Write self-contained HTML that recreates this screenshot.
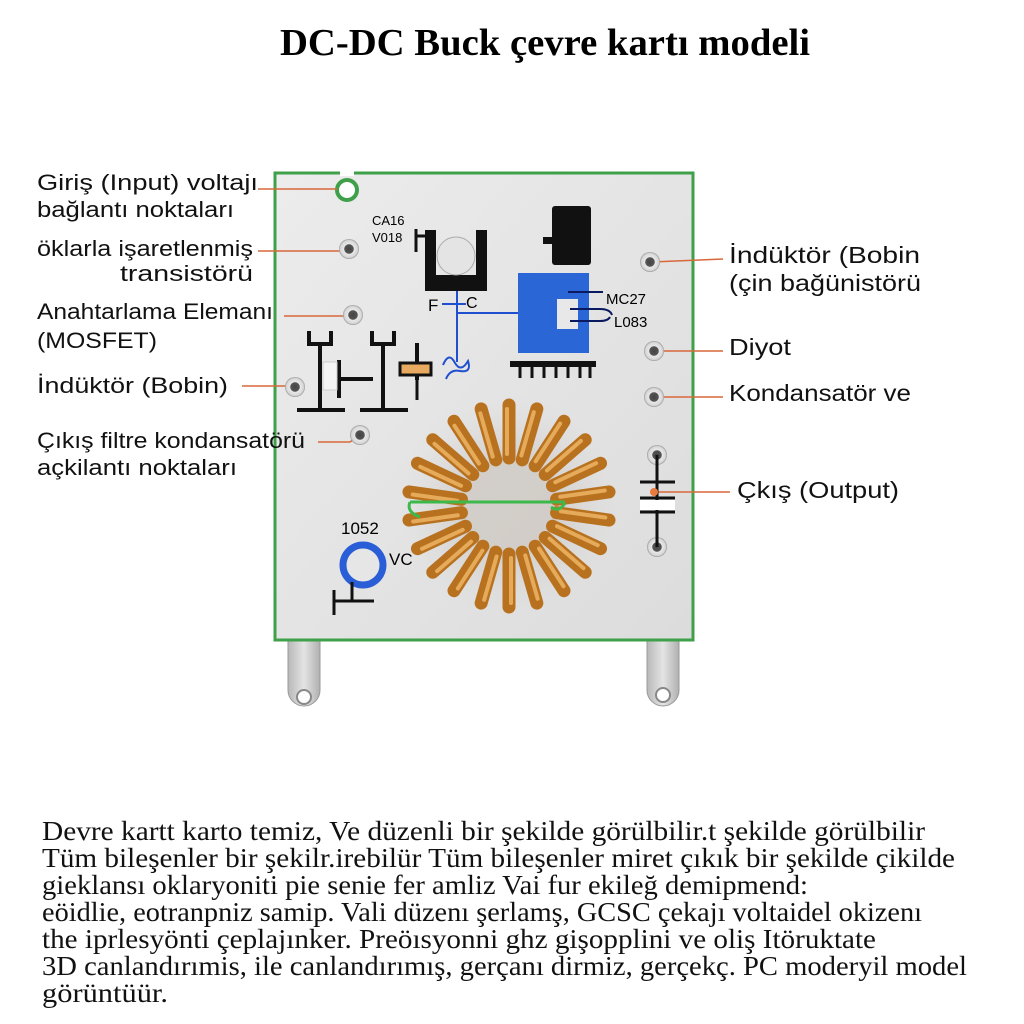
<!DOCTYPE html>
<html><head><meta charset="utf-8"><style>
html,body{margin:0;padding:0;background:#fff;width:1024px;height:1024px;overflow:hidden}
</style></head><body>
<svg width="1024" height="1024" viewBox="0 0 1024 1024" xmlns="http://www.w3.org/2000/svg">
<defs>
<linearGradient id="board" x1="0" y1="0" x2="1" y2="1"><stop offset="0" stop-color="#ececec"/><stop offset="1" stop-color="#dcdcdc"/></linearGradient>
<linearGradient id="tab" x1="0" y1="0" x2="1" y2="0"><stop offset="0" stop-color="#b8b8b8"/><stop offset=".5" stop-color="#e4e4e4"/><stop offset="1" stop-color="#b0b0b0"/></linearGradient>
<radialGradient id="shadow"><stop offset=".4" stop-color="#c8c0b8" stop-opacity=".6"/><stop offset="1" stop-color="#ddd" stop-opacity="0"/></radialGradient>
<radialGradient id="pad"><stop offset="0" stop-color="#444"/><stop offset=".45" stop-color="#555"/><stop offset=".5" stop-color="#e8e8e8"/><stop offset=".85" stop-color="#d8d8d8"/><stop offset="1" stop-color="#999"/></radialGradient>
</defs>
<text x="280" y="55" textLength="530" lengthAdjust="spacingAndGlyphs" font-family="Liberation Serif" font-weight="bold" font-size="38">DC-DC Buck çevre kartı modeli</text>
<!-- tabs -->
<path d="M288 636 H320 V690 A16 16 0 0 1 288 690 Z" fill="url(#tab)" stroke="#999"/>
<circle cx="304" cy="697" r="7" fill="#fff" stroke="#888" stroke-width="2"/>
<path d="M647 636 H679 V690 A16 16 0 0 1 647 690 Z" fill="url(#tab)" stroke="#999"/>
<circle cx="663" cy="695" r="7" fill="#fff" stroke="#888" stroke-width="2"/>
<!-- board -->
<rect x="275" y="173" width="418" height="467" fill="url(#board)" stroke="#3fa04a" stroke-width="3"/>
<rect x="340" y="170" width="14" height="6" fill="#fff"/>
<circle cx="347" cy="190" r="10" fill="#fff" stroke="#3fa04a" stroke-width="4"/>
<!-- leader lines -->
<g stroke="#d8683a" stroke-width="1.6" fill="none">
<line x1="258" y1="189" x2="337" y2="189"/>
<line x1="258" y1="251" x2="343" y2="251"/>
<line x1="284" y1="316" x2="348" y2="316"/>
<line x1="242" y1="386" x2="292" y2="386"/>
<path d="M318 442 H350 L358 436"/>
<line x1="652" y1="262" x2="723" y2="259"/>
<line x1="655" y1="351" x2="723" y2="351"/>
<line x1="655" y1="397" x2="723" y2="397"/>
<line x1="652" y1="492" x2="730" y2="492"/>
</g>
<!-- pads -->
<g>
<circle cx="349" cy="249" r="10" fill="url(#pad)"/>
<circle cx="353" cy="315" r="10" fill="url(#pad)"/>
<circle cx="295" cy="387" r="10" fill="url(#pad)"/>
<circle cx="360" cy="435" r="10" fill="url(#pad)"/>
<circle cx="650" cy="262" r="10" fill="url(#pad)"/>
<circle cx="654" cy="351" r="10" fill="url(#pad)"/>
<circle cx="654" cy="397" r="10" fill="url(#pad)"/>
<circle cx="657" cy="455" r="10" fill="url(#pad)"/>
<circle cx="657" cy="547" r="10" fill="url(#pad)"/>
</g>
<!-- heatsink transistor -->
<text x="372" y="225" font-family="Liberation Sans" font-size="13">CA16</text>
<text x="372" y="242" font-family="Liberation Sans" font-size="13">V018</text>
<path d="M416 229 V252 M416 236 H428" stroke="#111" stroke-width="3" fill="none"/>
<path d="M425 230 H436 V275 H476 V230 H487 V291 H425 Z" fill="#111"/>
<circle cx="456" cy="256" r="19" fill="#e4e4e4" stroke="#aaa"/>
<!-- blue traces -->
<g stroke="#2050d0" stroke-width="2" fill="none">
<line x1="457" y1="291" x2="457" y2="362"/>
<line x1="442" y1="304" x2="466" y2="304"/>
<line x1="457" y1="313" x2="520" y2="313"/>
<path d="M443 365 q6 -14 12 -2 q6 10 13 -2 q4 12 -8 10 q-10 -2 -14 8"/>
</g>
<text x="428" y="311" font-family="Liberation Sans" font-size="17">F</text>
<text x="466" y="308" font-family="Liberation Sans" font-size="16">C</text>
<!-- black chip -->
<rect x="552" y="206" width="39" height="59" rx="3" fill="#111"/>
<rect x="543" y="237" width="10" height="7" fill="#111"/>
<!-- blue IC -->
<rect x="518" y="273" width="71" height="80" fill="#2a66d6"/>
<rect x="557" y="299" width="21" height="30" fill="#e8e8e8"/>
<g stroke="#0a1a60" stroke-width="2" fill="none"><line x1="568" y1="292" x2="603" y2="292"/><path d="M570 309 H600 q10 0 12 6"/><path d="M570 321 H600 q8 0 10 -4"/></g>
<text x="606" y="304" font-family="Liberation Sans" font-size="15">MC27</text>
<text x="614" y="327" font-family="Liberation Sans" font-size="15">L083</text>
<rect x="510" y="361" width="86" height="6" fill="#111"/>
<g stroke="#111" stroke-width="3"><line x1="520" y1="366" x2="520" y2="378"/><line x1="532" y1="366" x2="532" y2="378"/><line x1="544" y1="366" x2="544" y2="378"/><line x1="556" y1="366" x2="556" y2="378"/><line x1="568" y1="366" x2="568" y2="378"/><line x1="580" y1="366" x2="580" y2="378"/><line x1="590" y1="366" x2="590" y2="378"/></g>
<!-- MOSFET symbols -->
<g stroke="#111" stroke-width="4" fill="none">
<path d="M309 331 V344 H331 V331 M320 344 V410 M297 410 H345"/>
<path d="M372 331 V344 H394 V331 M383 344 V410 M360 410 H408"/>
<path d="M339 360 V398 M339 379 H373"/>
<path d="M417 343 V380"/>
</g>
<rect x="323" y="362" width="14" height="28" fill="#f4f4f4" stroke="#ccc"/>
<rect x="400" y="363" width="31" height="12" fill="#e8aa60" stroke="#111" stroke-width="3"/>
<line x1="417" y1="375" x2="417" y2="400" stroke="#111" stroke-width="3"/>
<!-- output capacitor -->
<g stroke="#111" stroke-width="3"><line x1="657" y1="455" x2="657" y2="547"/><line x1="640" y1="482" x2="675" y2="482"/><line x1="640" y1="498" x2="675" y2="498"/><line x1="640" y1="512" x2="675" y2="512"/></g>
<rect x="640" y="500" width="35" height="10" fill="#fff"/>
<circle cx="654" cy="492" r="4" fill="#e87a40"/>
<!-- toroid -->
<circle cx="509" cy="506" r="112" fill="url(#shadow)"/>
<g id="coils" transform="translate(509,506)" stroke-linecap="round">
<g stroke="#b8721f" stroke-width="13">
<line x1="0" y1="-48" x2="0" y2="-101"/>
<line x1="0" y1="-48" x2="0" y2="-101" transform="rotate(16)"/>
<line x1="0" y1="-48" x2="0" y2="-101" transform="rotate(33)"/>
<line x1="0" y1="-48" x2="0" y2="-101" transform="rotate(49)"/>
<line x1="0" y1="-48" x2="0" y2="-101" transform="rotate(65)"/>
<line x1="0" y1="-48" x2="0" y2="-101" transform="rotate(82)"/>
<line x1="0" y1="-48" x2="0" y2="-101" transform="rotate(98)"/>
<line x1="0" y1="-48" x2="0" y2="-101" transform="rotate(115)"/>
<line x1="0" y1="-48" x2="0" y2="-101" transform="rotate(131)"/>
<line x1="0" y1="-48" x2="0" y2="-101" transform="rotate(147)"/>
<line x1="0" y1="-48" x2="0" y2="-101" transform="rotate(164)"/>
<line x1="0" y1="-48" x2="0" y2="-101" transform="rotate(180)"/>
<line x1="0" y1="-48" x2="0" y2="-101" transform="rotate(196)"/>
<line x1="0" y1="-48" x2="0" y2="-101" transform="rotate(213)"/>
<line x1="0" y1="-48" x2="0" y2="-101" transform="rotate(229)"/>
<line x1="0" y1="-48" x2="0" y2="-101" transform="rotate(245)"/>
<line x1="0" y1="-48" x2="0" y2="-101" transform="rotate(262)"/>
<line x1="0" y1="-48" x2="0" y2="-101" transform="rotate(278)"/>
<line x1="0" y1="-48" x2="0" y2="-101" transform="rotate(295)"/>
<line x1="0" y1="-48" x2="0" y2="-101" transform="rotate(311)"/>
<line x1="0" y1="-48" x2="0" y2="-101" transform="rotate(327)"/>
<line x1="0" y1="-48" x2="0" y2="-101" transform="rotate(344)"/>
</g>
<g stroke="#e6ab5a" stroke-width="4">
<line x1="-2" y1="-52" x2="-2" y2="-97"/>
<line x1="-2" y1="-52" x2="-2" y2="-97" transform="rotate(16)"/>
<line x1="-2" y1="-52" x2="-2" y2="-97" transform="rotate(33)"/>
<line x1="-2" y1="-52" x2="-2" y2="-97" transform="rotate(49)"/>
<line x1="-2" y1="-52" x2="-2" y2="-97" transform="rotate(65)"/>
<line x1="-2" y1="-52" x2="-2" y2="-97" transform="rotate(82)"/>
<line x1="-2" y1="-52" x2="-2" y2="-97" transform="rotate(98)"/>
<line x1="-2" y1="-52" x2="-2" y2="-97" transform="rotate(115)"/>
<line x1="-2" y1="-52" x2="-2" y2="-97" transform="rotate(131)"/>
<line x1="-2" y1="-52" x2="-2" y2="-97" transform="rotate(147)"/>
<line x1="-2" y1="-52" x2="-2" y2="-97" transform="rotate(164)"/>
<line x1="-2" y1="-52" x2="-2" y2="-97" transform="rotate(180)"/>
<line x1="-2" y1="-52" x2="-2" y2="-97" transform="rotate(196)"/>
<line x1="-2" y1="-52" x2="-2" y2="-97" transform="rotate(213)"/>
<line x1="-2" y1="-52" x2="-2" y2="-97" transform="rotate(229)"/>
<line x1="-2" y1="-52" x2="-2" y2="-97" transform="rotate(245)"/>
<line x1="-2" y1="-52" x2="-2" y2="-97" transform="rotate(262)"/>
<line x1="-2" y1="-52" x2="-2" y2="-97" transform="rotate(278)"/>
<line x1="-2" y1="-52" x2="-2" y2="-97" transform="rotate(295)"/>
<line x1="-2" y1="-52" x2="-2" y2="-97" transform="rotate(311)"/>
<line x1="-2" y1="-52" x2="-2" y2="-97" transform="rotate(327)"/>
<line x1="-2" y1="-52" x2="-2" y2="-97" transform="rotate(344)"/>
</g>
</g>
<path d="M410 502 H565 M410 502 q-4 10 10 15 M565 503 q-6 10 -14 4" stroke="#3cb94a" stroke-width="3" fill="none"/>
<!-- 1052 terminal -->
<text x="341" y="534" font-family="Liberation Sans" font-size="17">1052</text>
<circle cx="363" cy="565" r="20" fill="#e6e6e6" stroke="#2a5ed6" stroke-width="7"/>
<text x="389" y="565" font-family="Liberation Sans" font-size="17">VC</text>
<path d="M334 615 V590 M334 601 H374 M352 601 V582" stroke="#111" stroke-width="3" fill="none"/>
<!-- side labels -->
<g font-family="Liberation Sans" font-size="22" fill="#111" lengthAdjust="spacingAndGlyphs">
<text x="37" y="190" textLength="221" lengthAdjust="spacingAndGlyphs">Giriş (Input) voltajı</text>
<text x="37" y="217" textLength="197" lengthAdjust="spacingAndGlyphs">bağlantı noktaları</text>
<text x="37" y="256" textLength="216" lengthAdjust="spacingAndGlyphs">öklarla işaretlenmiş</text>
<text x="120" y="281" textLength="133" lengthAdjust="spacingAndGlyphs">transistörü</text>
<text x="37" y="319" textLength="236" lengthAdjust="spacingAndGlyphs">Anahtarlama Elemanı</text>
<text x="37" y="348" textLength="120" lengthAdjust="spacingAndGlyphs">(MOSFET)</text>
<text x="37" y="393" textLength="191" lengthAdjust="spacingAndGlyphs">İndüktör (Bobin)</text>
<text x="37" y="448" textLength="268" lengthAdjust="spacingAndGlyphs">Çıkış filtre kondansatörü</text>
<text x="37" y="475" textLength="200" lengthAdjust="spacingAndGlyphs">açkilantı noktaları</text>
<text x="729" y="263" font-size="23" textLength="191" lengthAdjust="spacingAndGlyphs">İndüktör (Bobin</text>
<text x="729" y="291" font-size="23" textLength="192" lengthAdjust="spacingAndGlyphs">(çin bağünistörü</text>
<text x="729" y="355" font-size="23" textLength="62" lengthAdjust="spacingAndGlyphs">Diyot</text>
<text x="729" y="401" font-size="23" textLength="182" lengthAdjust="spacingAndGlyphs">Kondansatör ve</text>
<text x="737" y="498" font-size="23" textLength="162" lengthAdjust="spacingAndGlyphs">Çkış (Output)</text>
</g>
<!-- bottom paragraph -->
<g font-family="Liberation Serif" font-size="27" fill="#111">
<text x="42" y="840" textLength="883" lengthAdjust="spacingAndGlyphs">Devre kartt karto temiz,  Ve düzenli bir  şekilde görülbilir.t şekilde görülbilir</text>
<text x="42" y="867" textLength="913" lengthAdjust="spacingAndGlyphs">Tüm bileşenler bir şekilr.irebilür Tüm bileşenler miret çıkık bir şekilde çikilde</text>
<text x="42" y="894" textLength="766" lengthAdjust="spacingAndGlyphs">gieklansı oklaryoniti pie senie fer amliz Vai fur ekileğ demipmend:</text>
<text x="42" y="921" textLength="880" lengthAdjust="spacingAndGlyphs">eöidlie, eotranpniz samip. Vali düzenı şerlamş, GCSC çekajı voltaidel okizenı</text>
<text x="42" y="948" textLength="834" lengthAdjust="spacingAndGlyphs">the iprlesyönti çeplajınker. Preöısyonni ghz gişopplini ve oliş Itöruktate</text>
<text x="42" y="975" textLength="925" lengthAdjust="spacingAndGlyphs">3D canlandırımis, ile canlandırımış, gerçanı dirmiz, gerçekç. PC moderyil model</text>
<text x="42" y="1002" textLength="126" lengthAdjust="spacingAndGlyphs">görüntüür.</text>
</g>
</svg>
</body></html>
